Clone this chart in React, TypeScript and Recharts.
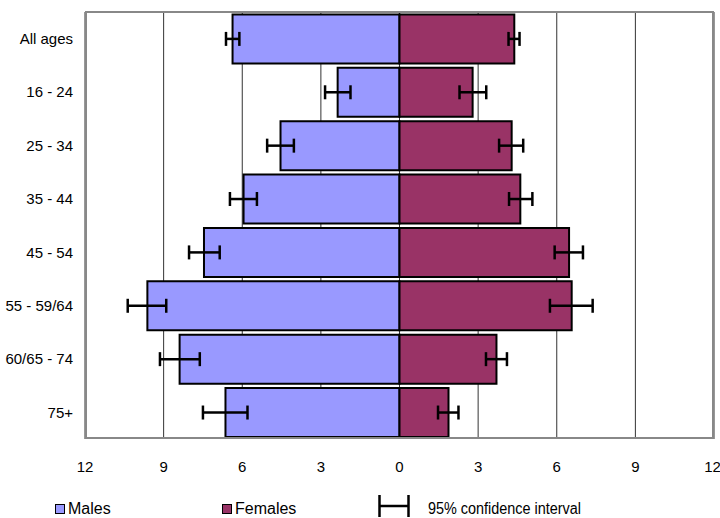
import { BarChart, Bar, XAxis, YAxis, CartesianGrid, ErrorBar } from 'recharts';

const ageGroups = ['All ages', '16 - 24', '25 - 34', '35 - 44', '45 - 54', '55 - 59/64', '60/65 - 74', '75+'];
const males = [6.37, 2.36, 4.54, 5.95, 7.46, 9.62, 8.39, 6.64];
const maleCiLow = [6.11, 1.87, 4.03, 5.44, 6.86, 8.9, 7.62, 5.8];
const maleCiHigh = [6.62, 2.84, 5.05, 6.47, 8.03, 10.37, 9.14, 7.5];
const females = [4.38, 2.79, 4.28, 4.61, 6.47, 6.57, 3.7, 1.87];
const femaleCiLow = [4.16, 2.29, 3.8, 4.18, 5.92, 5.74, 3.3, 1.47];
const femaleCiHigh = [4.58, 3.31, 4.72, 5.07, 7.0, 7.37, 4.1, 2.25];
const xTicks = [-12, -9, -6, -3, 0, 3, 6, 9, 12];

const MALE_COLOR = '#9999ff';
const FEMALE_COLOR = '#993366';
const FONT = '"Liberation Sans Narrow", "Arial Narrow", "Liberation Sans", Arial, sans-serif';

// males drawn to the left as negative values; error deltas relative to the bar end
const data = ageGroups.map((age, i) => ({
  age,
  males: -males[i],
  females: females[i],
  maleErr: [maleCiHigh[i] - males[i], males[i] - maleCiLow[i]],
  femaleErr: [females[i] - femaleCiLow[i], femaleCiHigh[i] - females[i]],
}));

function LegendBox({ color, label, left }: { color: string; label: string; left: number }) {
  return (
    <div style={{ position: 'absolute', left, top: 500, display: 'flex', alignItems: 'center' }}>
      <div style={{ width: 8, height: 8, background: color, border: '1.5px solid #000', marginRight: 3 }} />
      <span>{label}</span>
    </div>
  );
}

export default function App() {
  return (
    <div style={{ position: 'absolute', left: 0, top: 0, width: 720, height: 518, fontFamily: FONT, fontSize: 16, color: '#000' }}>
      <BarChart
        width={720}
        height={518}
        data={data}
        layout="vertical"
        stackOffset="sign"
        barCategoryGap="4.5%"
        margin={{ top: 12, right: 6, bottom: 39, left: 0 }}
      >
        <CartesianGrid horizontal={false} stroke="#333" />
        <XAxis
          type="number"
          domain={[-12, 12]}
          ticks={xTicks}
          tickFormatter={(v: number) => String(Math.abs(v))}
          tickLine={false}
          axisLine={false}
          tickMargin={16}
          height={40}
          tick={{ fontSize: 15, fill: '#000', fontFamily: FONT }}
        />
        <YAxis
          type="category"
          dataKey="age"
          width={85}
          tickLine={false}
          axisLine={false}
          tickMargin={6}
          tick={{ fontSize: 15, fill: '#000', fontFamily: FONT }}
        />
        <Bar dataKey="males" stackId="a" fill={MALE_COLOR} stroke="#000" strokeWidth={2} isAnimationActive={false}>
          <ErrorBar dataKey="maleErr" direction="x" width={7} stroke="#000" strokeWidth={2.5} />
        </Bar>
        <Bar dataKey="females" stackId="a" fill={FEMALE_COLOR} stroke="#000" strokeWidth={2} isAnimationActive={false}>
          <ErrorBar dataKey="femaleErr" direction="x" width={7} stroke="#000" strokeWidth={2.5} />
        </Bar>
      </BarChart>
      <div style={{ position: 'absolute', left: 85, top: 11, width: 629, height: 428, border: '2px solid #888', boxSizing: 'border-box', pointerEvents: 'none' }} />
      <LegendBox color={MALE_COLOR} label="Males" left={55} />
      <LegendBox color={FEMALE_COLOR} label="Females" left={222} />
      <div style={{ position: 'absolute', left: 378, top: 495 }}>
        <svg width={32} height={22}>
          <line x1={1.5} y1={0} x2={1.5} y2={22} stroke="#000" strokeWidth={2.5} />
          <line x1={30.5} y1={0} x2={30.5} y2={22} stroke="#000" strokeWidth={2.5} />
          <line x1={1.5} y1={11} x2={30.5} y2={11} stroke="#000" strokeWidth={2.5} />
        </svg>
      </div>
      <div style={{ position: 'absolute', left: 428, top: 500, transform: 'scaleX(0.9)', transformOrigin: 'left center', whiteSpace: 'nowrap' }}>
        95% confidence interval
      </div>
    </div>
  );
}
